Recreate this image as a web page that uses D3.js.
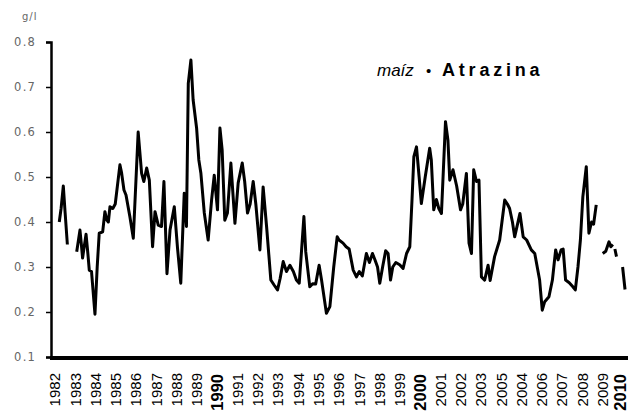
<!DOCTYPE html>
<html>
<head>
<meta charset="utf-8">
<script src="https://cdn.jsdelivr.net/npm/d3@7"></script>
<style>
  body { margin: 0; background: #fff; }
  svg { display: block; }
</style>
</head>
<body>
<svg id="chart"></svg>
<script>
// year labels under the axis (order kept as printed in the original)
const yearLabels = ["1982","1983","1984","1985","1986","1987","1988","1989","1990","1991",
  "1992","1993","1994","1995","1996","1997","1998","1999","2000","2001","2002","2003",
  "2005","2004","2006","2007","2008","2009","2010"];
const boldLabels = ["1990", "2000", "2010"];
const yTicks = [0.1, 0.2, 0.3, 0.4, 0.5, 0.6, 0.7, 0.8];

// atrazine concentration, g/l (null = no data)
const dates = [
  1982.21, 1982.3, 1982.41, 1982.5, 1982.61, 1982.85,
  1983.07, 1983.23, 1983.3, 1983.36, 1983.53, 1983.62, 1983.69, 1983.8, 1983.97,
  1984.08, 1984.18, 1984.35, 1984.46, 1984.55, 1984.63, 1984.71, 1984.85, 1984.97,
  1985.2, 1985.28, 1985.4, 1985.5, 1985.69, 1985.86,
  1986.1, 1986.27, 1986.38, 1986.52, 1986.65, 1986.81, 1986.93,
  1987.09, 1987.25, 1987.37, 1987.52, 1987.67, 1987.88,
  1988.04, 1988.2, 1988.37, 1988.48, 1988.57, 1988.7, 1988.81, 1988.98,
  1989.09, 1989.19, 1989.36, 1989.55, 1989.72, 1989.85,
  1990.01, 1990.13, 1990.24, 1990.37, 1990.5, 1990.67, 1990.87,
  1991.03, 1991.23, 1991.35, 1991.49, 1991.62, 1991.77, 1991.9,
  1992.1, 1992.26, 1992.43, 1992.64, 1992.8, 1992.97,
  1993.1, 1993.25, 1993.41, 1993.58, 1993.75, 1993.9,
  1994.04, 1994.15, 1994.27, 1994.36, 1994.56, 1994.7, 1994.85,
  1995.02, 1995.14, 1995.38, 1995.55, 1995.74, 1995.91,
  1996.0, 1996.2, 1996.35, 1996.5, 1996.7, 1996.86,
  1997.0, 1997.15, 1997.35, 1997.5, 1997.65, 1997.78, 1997.9,
  1998.01, 1998.15, 1998.3, 1998.42, 1998.54, 1998.65, 1998.8, 1998.99,
  1999.16, 1999.33, 1999.49, 1999.6, 1999.69, 1999.82, 1999.95,
  2000.06, 2000.25, 2000.47, 2000.55, 2000.67, 2000.8, 2000.92,
  2001.05, 2001.12, 2001.25, 2001.37, 2001.46, 2001.62, 2001.8, 2001.99,
  2002.1, 2002.28, 2002.41, 2002.53, 2002.64, 2002.78, 2002.9,
  2003.02, 2003.18, 2003.35, 2003.45, 2003.67, 2003.92,
  2004.17, 2004.3, 2004.41, 2004.55, 2004.66, 2004.92,
  2005.08, 2005.25, 2005.48, 2005.65, 2005.89,
  2006.02, 2006.14, 2006.35, 2006.52, 2006.68, 2006.8, 2006.95,
  2007.05, 2007.17, 2007.35, 2007.53, 2007.65, 2007.78, 2007.9,
  2008.02, 2008.19, 2008.32, 2008.45, 2008.55, 2008.68, 2008.85,
  2009.0, 2009.15, 2009.31, 2009.4, 2009.5, 2009.55, 2009.6, 2009.68, 2009.85,
  2009.98, 2010.1
];
const values = [
  0.40, 0.43, 0.48, 0.42, 0.35, null,
  0.334, 0.382, 0.35, 0.32, 0.373, 0.33, 0.293, 0.29, 0.195,
  0.30, 0.375, 0.378, 0.423, 0.405, 0.40, 0.434, 0.43, 0.44,
  0.527, 0.51, 0.471, 0.46, 0.412, 0.364,
  0.60, 0.508, 0.49, 0.52, 0.493, 0.345, 0.423,
  0.393, 0.39, 0.49, 0.285, 0.382, 0.434,
  0.342, 0.264, 0.464, 0.39, 0.708, 0.76, 0.671, 0.609,
  0.538, 0.509, 0.42, 0.36, 0.449, 0.504,
  0.427, 0.609, 0.56, 0.404, 0.42, 0.531, 0.397,
  0.487, 0.531, 0.49, 0.42, 0.44, 0.49, 0.44,
  0.338, 0.478, 0.39, 0.271, 0.26, 0.249,
  0.275, 0.312, 0.29, 0.304, 0.29, 0.271,
  0.264, 0.334, 0.412, 0.334, 0.256, 0.263, 0.262,
  0.304, 0.271, 0.197, 0.212, 0.30, 0.367,
  0.36, 0.353, 0.345, 0.34, 0.293, 0.278,
  0.29, 0.28, 0.33, 0.31, 0.33, 0.315, 0.30,
  0.264, 0.30, 0.336, 0.33, 0.271, 0.30, 0.31, 0.305,
  0.297, 0.33, 0.345, 0.45, 0.545, 0.567, 0.50,
  0.441, 0.50, 0.564, 0.538, 0.427, 0.45, 0.43,
  0.419, 0.49, 0.623, 0.582, 0.493, 0.516, 0.48, 0.427,
  0.44, 0.508, 0.353, 0.33, 0.516, 0.49, 0.493,
  0.278, 0.271, 0.304, 0.27, 0.323, 0.36,
  0.449, 0.44, 0.43, 0.40, 0.367, 0.419,
  0.367, 0.36, 0.338, 0.33, 0.271,
  0.204, 0.223, 0.234, 0.271, 0.338, 0.316, 0.338,
  0.34, 0.271, 0.265, 0.256, 0.249, 0.30, 0.36,
  0.456, 0.523, 0.375, 0.40, 0.395, 0.438, null,
  0.33, 0.335, 0.356, 0.345, 0.35, null, 0.34, 0.323, null,
  0.30, 0.25
];

const width = 628, height = 417;
const svg = d3.select("#chart").attr("width", width).attr("height", height);

const x = d3.scaleLinear().domain([1982, 2010]).range([55, 623]);
const y = d3.scaleLinear().domain([0.1, 0.8]).range([357, 42]);

// y axis
const yAxis = svg.append("g")
  .attr("transform", "translate(51,0)")
  .call(d3.axisLeft(y).tickValues(yTicks).tickSize(5).tickPadding(10).tickFormat(d3.format(".1f")));
yAxis.select(".domain").attr("stroke", "#000").attr("stroke-width", 2.5);
yAxis.selectAll(".tick line").attr("stroke", "#000").attr("stroke-width", 1.5);
yAxis.selectAll(".tick text")
  .attr("fill", "#666")
  .style("font-family", "DejaVu Sans")
  .style("font-size", "11.5px")
  .style("letter-spacing", "1.2px");

// x axis line
svg.append("line")
  .attr("x1", 50).attr("x2", width)
  .attr("y1", y(0.1) + 1).attr("y2", y(0.1) + 1)
  .attr("stroke", "#000").attr("stroke-width", 4);

// year labels (last one nudged in so it stays inside the frame)
svg.append("g").selectAll("text")
  .data(yearLabels)
  .join("text")
  .attr("transform", (d, i) => `translate(${Math.min(x(1982 + i), width - 8)},${boldLabels.includes(d) ? 374 : 373}) rotate(-90)`)
  .attr("dy", "0.35em")
  .attr("text-anchor", "end")
  .style("font-family", "Liberation Sans, Arial, sans-serif")
  .style("font-size", d => boldLabels.includes(d) ? "16.5px" : "15px")
  .style("font-weight", d => boldLabels.includes(d) ? "bold" : "normal")
  .attr("fill", "#000")
  .text(d => d);

// unit
svg.append("text")
  .attr("x", 22).attr("y", 20)
  .attr("fill", "#666")
  .style("font-family", "DejaVu Sans")
  .style("font-size", "10px")
  .style("letter-spacing", "1px")
  .text("g/l");

// title
const title = svg.append("text")
  .attr("x", 377).attr("y", 76)
  .style("font-family", "Liberation Sans, Arial, sans-serif")
  .attr("fill", "#000");
title.append("tspan").style("font-style", "italic").style("font-size", "17px").text("maíz");
title.append("tspan").attr("x", 426).style("font-size", "15px").text("•");
title.append("tspan").attr("x", 442).style("font-weight", "bold").style("font-size", "18px")
  .style("letter-spacing", "3.8px").text("Atrazina");

// series
const points = dates.map((d, i) => ({ date: d, value: values[i] }));
const line = d3.line()
  .defined(d => d.value !== null)
  .x(d => x(d.date))
  .y(d => y(d.value));

svg.append("path")
  .datum(points)
  .attr("d", line)
  .attr("fill", "none")
  .attr("stroke", "#000")
  .attr("stroke-width", 3)
  .attr("stroke-linejoin", "round");
</script>
</body>
</html>
